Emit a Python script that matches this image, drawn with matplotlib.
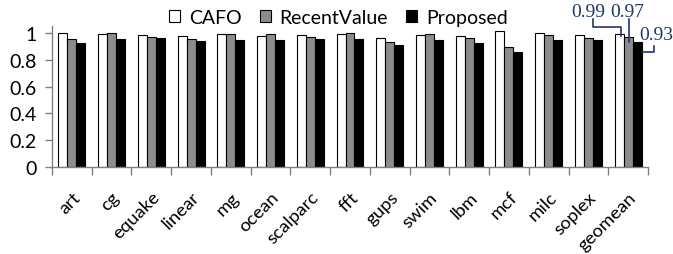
import matplotlib
matplotlib.use("Agg")
import matplotlib.pyplot as plt
import matplotlib.transforms as mtransforms
import numpy as np

categories = ["art", "cg", "equake", "linear", "mg", "ocean", "scalparc", "fft",
              "gups", "swim", "lbm", "mcf", "milc", "soplex", "geomean"]
cafo = [1.00, 0.995, 0.988, 0.978, 0.995, 0.980, 0.983, 0.995, 0.965, 0.988, 0.980, 1.017, 1.002, 0.988, 0.99]
recent = [0.953, 1.00, 0.970, 0.953, 0.995, 0.993, 0.973, 0.998, 0.935, 0.990, 0.965, 0.896, 0.985, 0.965, 0.97]
proposed = [0.928, 0.953, 0.960, 0.943, 0.945, 0.950, 0.955, 0.958, 0.908, 0.948, 0.925, 0.858, 0.948, 0.945, 0.93]
series_names = ["CAFO", "RecentValue", "Proposed"]
yticks = [0, 0.2, 0.4, 0.6, 0.8, 1]
ytick_labels = ["0", "0.2", "0.4", "0.6", "0.8", "1"]

plt.rcParams['font.family'] = ['Lato', 'DejaVu Sans']

fig = plt.figure(figsize=(6.73, 2.55), dpi=100)
ax = fig.add_axes([52/673, 1-168/255, (648-52)/673, 1.05*134/255])

x = np.arange(len(categories))
w = 0.226
b1 = ax.bar(x - w, cafo, w, color="white", edgecolor="black", linewidth=0.8, label=series_names[0])
b2 = ax.bar(x, recent, w, color="#8c8c8c", edgecolor="black", linewidth=0.8, label=series_names[1])
b3 = ax.bar(x + w, proposed, w, color="black", edgecolor="black", linewidth=0.8, label=series_names[2])

ax.set_xlim(-0.5, len(categories) - 0.5)
ax.set_ylim(0, 1.05)
ax.set_yticks(yticks)
ax.set_yticklabels(ytick_labels, fontsize=14)
ax.set_xticks(x)
ax.set_xticklabels(categories, rotation=45, ha="right", rotation_mode="anchor", fontsize=13.3)
shift = mtransforms.ScaledTranslation(-4/100, 0, fig.dpi_scale_trans)
for lbl in ax.get_xticklabels():
    lbl.set_transform(lbl.get_transform() + shift)
ax.set_xticks(np.arange(len(categories) + 1) - 0.5, minor=True)
ax.tick_params(axis="x", which="major", length=0, pad=15.5)
ax.tick_params(axis="x", which="minor", length=6, color="#808080", width=1)
ax.tick_params(axis="y", length=5, color="#808080", width=1, pad=6)
for s in ["top", "right"]:
    ax.spines[s].set_visible(False)
for s in ["left", "bottom"]:
    ax.spines[s].set_color("#808080")
    ax.spines[s].set_linewidth(1)

leg = fig.legend(handles=[b1, b2, b3], loc="upper center", bbox_to_anchor=(0.503, 1.03), ncol=3,
                 frameon=False, fontsize=14, handlelength=0.55, handleheight=0.55,
                 handletextpad=0.45, columnspacing=0.95)

# annotations for geomean
g = len(categories) - 1
navy = "#1f3864"
tfont = dict(family="Liberation Serif", fontsize=14, color=navy)
ax.text(g - 1.01, 1.127, f"{cafo[g]:.2f}", ha="center", va="baseline", clip_on=False, **tfont)
ax.text(g - 0.015, 1.127, f"{recent[g]:.2f}", ha="center", va="baseline", clip_on=False, **tfont)
ax.text(g + 0.28, 0.955, f"{proposed[g]:.2f}", ha="left", va="baseline", clip_on=False, **tfont)
ax.plot([g - 0.883, g - 0.883, g - w + 0.05, g - w + 0.05],
        [1.104, 1.045, 1.045, cafo[g] - 0.012], color=navy, lw=1.2, clip_on=False)
ax.plot([g + 0.02, g + 0.02], [1.104, recent[g] - 0.037], color=navy, lw=1.2, clip_on=False)
ax.plot([g + w + 0.12, g + 0.65, g + 0.65], [proposed[g] - 0.072, proposed[g] - 0.072, proposed[g] - 0.027],
        color=navy, lw=1.2, clip_on=False)

fig.savefig("out.png", dpi=100)
